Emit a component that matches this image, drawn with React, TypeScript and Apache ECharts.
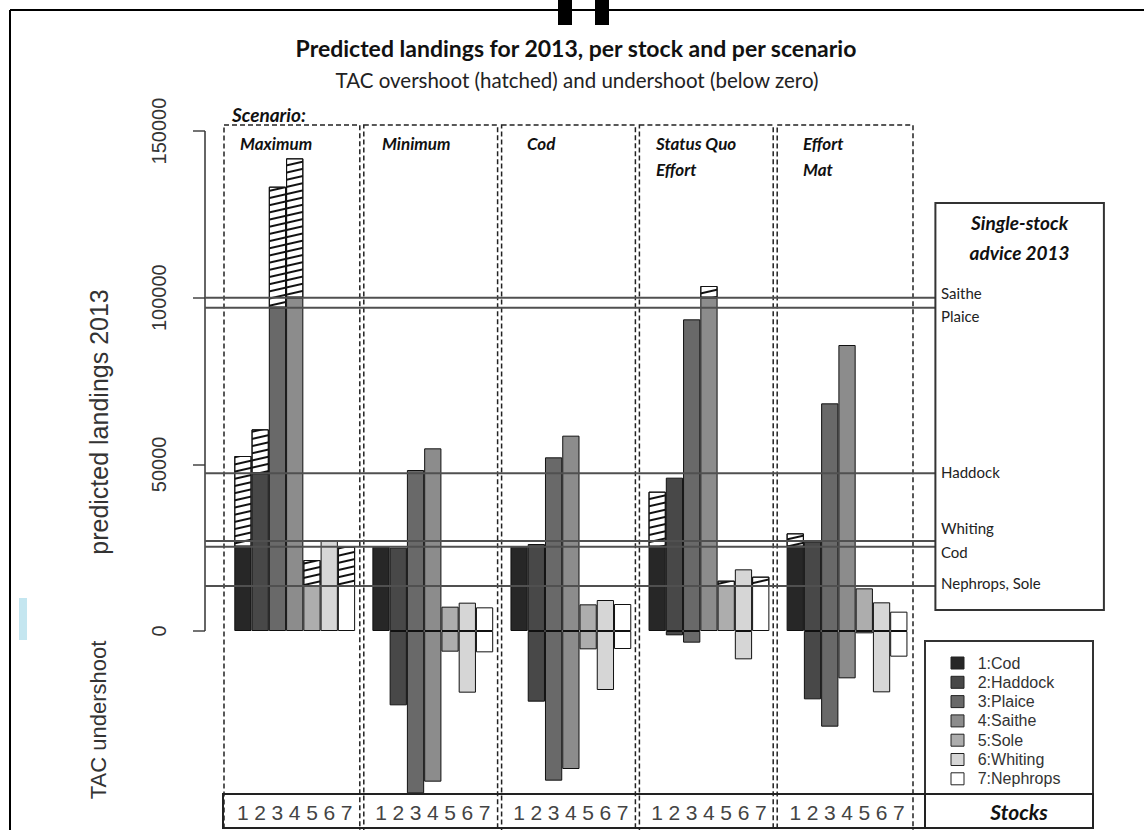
import React, { useEffect, useRef } from 'react';
import * as echarts from 'echarts';

// ---------------- data ----------------
const STOCKS = ['Cod', 'Haddock', 'Plaice', 'Saithe', 'Sole', 'Whiting', 'Nephrops'];
const SCENARIO_LINES = [['Maximum'], ['Minimum'], ['Cod'], ['Status Quo', 'Effort'], ['Effort', 'Mat']];
const TAC_2013 = [25300, 47300, 97000, 100000, 13500, 27000, 13500];
const LANDINGS_MAXIMUM = [52500, 60500, 133300, 141800, 21300, 27000, 25300];
const LANDINGS_MINIMUM = [25300, 25000, 48300, 54800, 7300, 8500, 7100];
const LANDINGS_COD = [25300, 26100, 52100, 58600, 8000, 9300, 8100];
const LANDINGS_STATUS_QUO = [41800, 46000, 93500, 103500, 15100, 18500, 16300];
const LANDINGS_EFFORT_MAT = [29300, 26800, 68300, 85800, 12800, 8600, 5800];
const LANDINGS = [LANDINGS_MAXIMUM, LANDINGS_MINIMUM, LANDINGS_COD, LANDINGS_STATUS_QUO, LANDINGS_EFFORT_MAT];
const Y_TICKS = [0, 50000, 100000, 150000];
const ADVICE_LABELS = ['Saithe', 'Plaice', 'Haddock', 'Whiting', 'Cod', 'Nephrops, Sole'];
const ADVICE_VALUES = [100000, 97000, 47300, 27000, 25300, 13500];

// ---------------- style / layout ----------------
const STOCK_COLORS = ['#272727', '#484848', '#696969', '#8c8c8c', '#adadad', '#d6d6d6', '#ffffff'];
const ADVICE_LABEL_DY = [-5, 8, -1, -13, 5, -3];
const SCEN_LABEL_X = [240, 382, 527, 656, 803];
const GRID_LEFT = 234.3;
const BAR_W = 17.26;
const GRID_TOP = 131;
const GRID_BOTTOM = 794;
const Y_MAX = 150000;
const PX_PER_UNIT = (631 - 131) / 150000;
const Y_MIN = -(GRID_BOTTOM - 631) / PX_PER_UNIT;
const AXIS_X = 205;
const PANEL_X0 = 224;
const PANEL_W = 137.8;
const SANS = '"Liberation Sans", Arial, sans-serif';
const CAL = 'Lato, "Open Sans", sans-serif';

function buildSeriesData() {
  const cats: string[] = [];
  const solid: any[] = [];
  const over: any[] = [];
  const under: any[] = [];
  LANDINGS.forEach((arr, g) => {
    arr.forEach((v, s) => {
      cats.push(`${g}|${s + 1}`);
      const t = TAC_2013[s];
      const color = STOCK_COLORS[s];
      solid.push({ value: Math.min(v, t), itemStyle: { color } });
      over.push(v > t ? v - t : '-');
      under.push(v < t ? { value: v - t, itemStyle: { color } } : '-');
    });
    if (g < LANDINGS.length - 1) {
      cats.push(`gap|${g}`);
      solid.push('-');
      over.push('-');
      under.push('-');
    }
  });
  return { cats, solid, over, under };
}

function txt(text: string, x: number, y: number, font: string, align = 'left', extra: any = {}) {
  return {
    type: 'text',
    x,
    y,
    z: 110,
    ...extra,
    style: {
      text,
      font,
      fill: extra.fill || '#111',
      align,
      textAlign: align,
      verticalAlign: 'middle',
      textVerticalAlign: 'middle',
    },
  };
}

export default function App() {
  const ref = useRef<HTMLDivElement>(null);

  useEffect(() => {
    if (!ref.current) return;
    const chart = echarts.init(ref.current, undefined, { renderer: 'svg' });
    const { cats, solid, over, under } = buildSeriesData();
    const nCat = cats.length;

    const barBase = {
      type: 'bar',
      stack: 'all',
      barCategoryGap: '0%',
      barGap: '0%',
      silent: true,
      emphasis: { disabled: true },
    };

    chart.setOption({
      animation: false,
      grid: {
        left: GRID_LEFT,
        top: GRID_TOP,
        width: BAR_W * nCat,
        height: GRID_BOTTOM - GRID_TOP,
        containLabel: false,
        outerBoundsMode: 'none',
      },
      xAxis: {
        type: 'category',
        data: cats,
        position: 'bottom',
        axisLine: { show: false, onZero: false },
        axisTick: { show: false },
        splitLine: { show: false },
        axisLabel: {
          interval: 0,
          margin: 8,
          fontFamily: SANS,
          fontSize: 21,
          color: '#444',
          formatter: (v: string) => (v.startsWith('gap') ? '' : v.split('|')[1]),
        },
      },
      yAxis: {
        type: 'value',
        min: Y_MIN,
        max: Y_MAX,
        position: 'left',
        offset: GRID_LEFT - AXIS_X,
        axisLine: { show: false },
        splitLine: { show: false },
        axisTick: {
          show: true,
          length: 12,
          customValues: Y_TICKS,
          lineStyle: { color: '#444', width: 1.5 },
        },
        axisLabel: {
          customValues: Y_TICKS,
          rotate: 90,
          margin: 36,
          fontFamily: SANS,
          fontSize: 20,
          color: '#333',
          formatter: (v: number) => String(Math.round(v)),
        },
      },
      series: [
        {
          ...barBase,
          name: 'landings',
          data: solid,
          itemStyle: { borderColor: '#111', borderWidth: 1 },
        },
        {
          ...barBase,
          name: 'overshoot',
          data: over,
          itemStyle: {
            color: '#ffffff',
            borderColor: '#111',
            borderWidth: 1,
            decal: {
              symbol: 'rect',
              symbolSize: 1,
              color: '#111',
              dashArrayX: [1, 0],
              dashArrayY: [1.3, 4.4],
              rotation: -Math.PI / 14,
            },
          },
        },
        {
          ...barBase,
          name: 'undershoot',
          data: under,
          itemStyle: { borderColor: '#111', borderWidth: 1 },
        },
      ],
    });

    const py = (v: number) => chart.convertToPixel({ yAxisIndex: 0 }, v) as unknown as number;

    const g: any[] = [];
    // frame
    g.push({ type: 'line', z: 120, shape: { x1: 10, y1: 10, x2: 1144, y2: 10 }, style: { stroke: '#000', lineWidth: 2 } });
    g.push({ type: 'line', z: 120, shape: { x1: 10, y1: 10, x2: 10, y2: 830 }, style: { stroke: '#000', lineWidth: 2 } });
    g.push({ type: 'rect', z: 120, shape: { x: 558, y: 0, width: 14, height: 25 }, style: { fill: '#000' } });
    g.push({ type: 'rect', z: 120, shape: { x: 595, y: 0, width: 14, height: 25 }, style: { fill: '#000' } });
    g.push({ type: 'rect', z: 5, shape: { x: 19, y: 598, width: 8, height: 42 }, style: { fill: '#c4e6f0' } });

    // titles
    g.push(txt('Predicted landings for 2013, per stock and per scenario', 576, 48, `bold 23px ${CAL}`, 'center'));
    g.push(txt('TAC overshoot (hatched) and undershoot (below zero)', 577, 80, `20.5px ${CAL}`, 'center', { fill: '#222' }));
    g.push(txt('Scenario:', 232, 114, `bold italic 19px ${CAL}`));

    // scenario panels
    for (let i = 0; i < 5; i++) {
      const b0 = PANEL_X0 + i * PANEL_W;
      const b1 = b0 + PANEL_W;
      const l = b0 + (i === 0 ? 0 : 2);
      const r = b1 - (i === 4 ? 0 : 2);
      g.push({
        type: 'rect',
        z: 90,
        shape: { x: l, y: 125, width: r - l, height: 720 },
        style: { fill: 'none', stroke: '#222', lineWidth: 1.5, lineDash: [5, 3] },
      });
      SCENARIO_LINES[i].forEach((line, k) => {
        g.push(txt(line, SCEN_LABEL_X[i], 143 + k * 26, `bold italic 17px ${CAL}`));
      });
    }

    // y axis line and titles
    g.push({ type: 'line', z: 100, shape: { x1: AXIS_X, y1: py(0), x2: AXIS_X, y2: py(150000) }, style: { stroke: '#333', lineWidth: 1.5 } });
    g.push(txt('predicted landings 2013', 99, 422, `25px ${SANS}`, 'center', { rotation: Math.PI / 2, fill: '#333' }));
    g.push(txt('TAC undershoot', 98, 720, `22px ${SANS}`, 'center', { rotation: Math.PI / 2, fill: '#333' }));

    // advice lines
    const BOX_L = 935.4;
    ADVICE_VALUES.forEach((v, i) => {
      const y = py(v);
      g.push({ type: 'line', z: 100, shape: { x1: AXIS_X, y1: y, x2: BOX_L, y2: y }, style: { stroke: '#505050', lineWidth: 2 } });
      g.push(txt(ADVICE_LABELS[i], 941, y + ADVICE_LABEL_DY[i], `15px ${CAL}`, 'left', { fill: '#222' }));
    });
    g.push({ type: 'rect', z: 100, shape: { x: BOX_L, y: 203, width: 168.5, height: 407 }, style: { fill: 'none', stroke: '#333', lineWidth: 2 } });
    g.push(txt('Single-stock', 1019.6, 222, `bold italic 19px ${CAL}`, 'center'));
    g.push(txt('advice 2013', 1019.6, 252, `bold italic 19px ${CAL}`, 'center'));

    // legend
    g.push({ type: 'rect', z: 100, shape: { x: 925, y: 641, width: 168, height: 153 }, style: { fill: 'none', stroke: '#333', lineWidth: 2 } });
    STOCKS.forEach((s, i) => {
      const y = 663 + i * 19.3;
      g.push({ type: 'rect', z: 100, shape: { x: 951, y: y - 6, width: 13, height: 12 }, style: { fill: STOCK_COLORS[i], stroke: '#222', lineWidth: 1 } });
      g.push(txt(`${i + 1}:${s}`, 977.7, y, `16px ${SANS}`, 'left', { fill: '#333' }));
    });

    // bottom boxes
    g.push({ type: 'rect', z: 100, shape: { x: 223, y: 794, width: 702, height: 34 }, style: { fill: 'none', stroke: '#222', lineWidth: 2 } });
    g.push({ type: 'rect', z: 100, shape: { x: 925, y: 794, width: 168, height: 34 }, style: { fill: 'none', stroke: '#222', lineWidth: 2 } });
    g.push(txt('Stocks', 1019, 811.5, `bold italic 21px ${CAL}`, 'center'));

    chart.setOption({ graphic: g });

    return () => chart.dispose();
  }, []);

  return (
    <div
      ref={ref}
      style={{ position: 'fixed', left: 0, top: 0, width: 1144, height: 830, background: '#fff' }}
    />
  );
}
